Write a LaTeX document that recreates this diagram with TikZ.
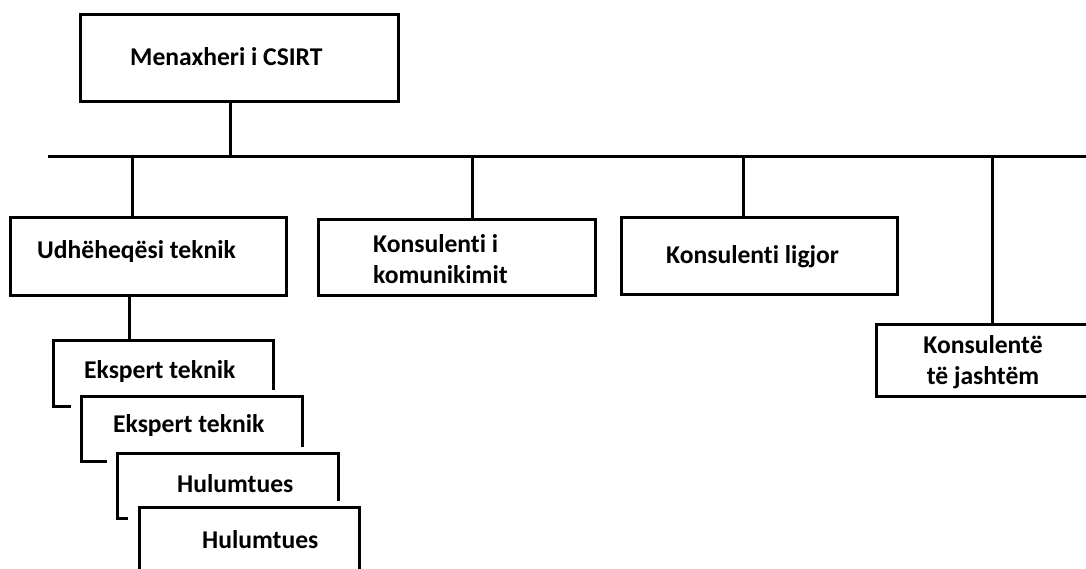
\documentclass[tikz,border=0pt]{standalone}
\usepackage{fontspec}
\setmainfont[Ligatures=NoCommon,RawFeature={-liga}]{Carlito}
\begin{document}
\begin{tikzpicture}[x=1pt,y=-1pt,
  box/.style={draw=black, line width=3pt, fill=white, rectangle, inner sep=0pt, outer sep=0pt},
  lbl/.style={font=\fontsize{25.6}{31}\selectfont\bfseries, inner sep=0pt, text=black},
  conn/.style={draw=black, line width=3pt}]
\clip (0,0) rectangle (1086,568);
\fill[white] (0,0) rectangle (1086,568);
% boxes
\node[box, minimum width=318pt, minimum height=87pt] (mgr) at (239,57.5) {};
\node[box, minimum width=276pt, minimum height=78pt] (ud) at (148,256) {};
\node[box, minimum width=277pt, minimum height=76pt] (kom) at (456.5,257) {};
\node[box, minimum width=276pt, minimum height=77pt] (lig) at (759,255.5) {};
\node[box, minimum width=240pt, minimum height=72pt] (ext) at (996,360) {};
% texts
\node[lbl, anchor=west] (tmgr) at (130,57) {Menaxheri i CSIRT};
\node[lbl, anchor=west] (tud) at (37,252) {Udhëheqësi teknik};
\node[lbl, anchor=west, align=left] (tkom) at (373,259) {Konsulenti i\\komunikimit};
\node[lbl, anchor=west] (tlig) at (666,257) {Konsulenti ligjor};
\node[lbl, align=center] (text) at (983,362) {Konsulentë\\të jashtëm};
% bus and connectors
\coordinate (busL) at (48,156);
\coordinate (busR) at (1090,156);
\draw[conn] (busL) -- (busR);
\coordinate (jm) at (230,156);
\draw[conn] (mgr.south -| jm) -- (jm);
\coordinate (j1) at (132,156);
\coordinate (j2) at (472,156);
\coordinate (j3) at (743,156);
\coordinate (j4) at (992,156);
\draw[conn] (j1) -- (j1 |- ud.north);
\draw[conn] (j2) -- (j2 |- kom.north);
\draw[conn] (j3) -- (j3 |- lig.north);
\draw[conn] (j4) -- (j4 |- ext.north);
% stacked boxes
\node[box, minimum width=220pt, minimum height=66pt] (e1) at (163,373) {};
\node[lbl, anchor=west] (te1) at (84,372) {Ekspert teknik};
\coordinate (je) at (129,340);
\draw[conn] (ud.south -| je) -- (je);
\fill[white] (71,390) rectangle (330,470);
\node[box, minimum width=221pt, minimum height=65pt] (e2) at (191.5,428.5) {};
\node[lbl, anchor=west] (te2) at (113,426) {Ekspert teknik};
\fill[white] (107,447) rectangle (360,530);
\node[box, minimum width=221pt, minimum height=65pt] (h1) at (227.5,485.5) {};
\node[lbl, anchor=west] (th1) at (177,484) {Hulumtues};
\fill[white] (128,501) rectangle (380,580);
\node[box, minimum width=220pt, minimum height=80pt] (h2) at (249,547) {};
\node[lbl, anchor=west] (th2) at (202,540) {Hulumtues};
\end{tikzpicture}
\end{document}
